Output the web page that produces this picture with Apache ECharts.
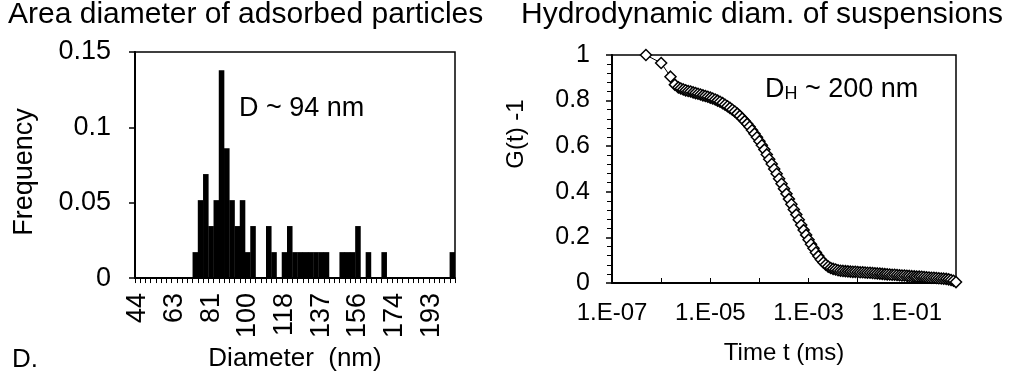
<!DOCTYPE html>
<html>
<head>
<meta charset="utf-8">
<script src="https://cdn.jsdelivr.net/npm/echarts@6/dist/echarts.min.js"></script>
<style>
html,body{margin:0;padding:0;background:#fff;}
#chart{width:1013px;height:377px;}
</style>
</head>
<body>
<div id="chart"></div>
<script>
// ---- Left panel: histogram of area diameter ----
const diameterCategories = ['44','47','49','52','55','57','60','63','65','68','71','73','76','79','81','84','87','89','92','95','97','100','102','105','108','110','113','116','118','121','124','126','129','132','134','137','140','142','145','148','150','153','156','158','161','164','166','169','172','174','177','180','182','185','188','190','193','195','198','201','203'];
const frequency = [0,0,0,0,0,0,0,0,0,0,0,
  0.0172,0.0517,0.069,0.0345,0.0517,0.1379,0.0862,0.0517,0.0345,0.0517,0.0172,0.0345,0,0,
  0.0345,0.0172,0,0.0172,0.0345,
  0.0172,0.0172,0.0172,0.0172,0.0172,0.0172,0.0172,0,0,
  0.0172,0.0172,0.0172,0.0345,0,0.0172,0,0,0.0172,
  0,0,0,0,0,0,0,0,0,0,0,0,0.0172];
const freqTicks = [0, 0.05, 0.1, 0.15];

// ---- Right panel: correlation function ----
const timeMs = [4.9e-7,1.0e-6,1.55e-6,1.9e-6,
  2.24e-6,2.51e-6,2.82e-6,3.16e-6,3.55e-6,3.98e-6,4.47e-6,5.01e-6,5.62e-6,6.31e-6,7.08e-6,7.94e-6,8.91e-6,
  1e-5,1.12e-5,1.26e-5,1.41e-5,1.58e-5,1.78e-5,2e-5,2.24e-5,2.51e-5,2.82e-5,3.16e-5,3.55e-5,3.98e-5,4.47e-5,5.01e-5,5.62e-5,6.31e-5,7.08e-5,7.94e-5,8.91e-5,
  1e-4,1.12e-4,1.26e-4,1.41e-4,1.58e-4,1.78e-4,2e-4,2.24e-4,2.51e-4,2.82e-4,3.16e-4,3.55e-4,3.98e-4,4.47e-4,5.01e-4,5.62e-4,6.31e-4,7.08e-4,7.94e-4,8.91e-4,
  1e-3,1.12e-3,1.26e-3,1.41e-3,1.58e-3,1.78e-3,2e-3,2.24e-3,2.51e-3,2.82e-3,3.16e-3,3.55e-3,3.98e-3,4.47e-3,5.01e-3,5.62e-3,6.31e-3,7.08e-3,7.94e-3,8.91e-3,
  1e-2,1.12e-2,1.26e-2,1.41e-2,1.58e-2,1.78e-2,2e-2,2.24e-2,2.51e-2,2.82e-2,3.16e-2,3.55e-2,3.98e-2,4.47e-2,5.01e-2,5.62e-2,6.31e-2,7.08e-2,7.94e-2,8.91e-2,
  0.1,0.112,0.126,0.141,0.158,0.178,0.2,0.224,0.251,0.282,0.316,0.355,0.398,0.447,0.501,0.562,0.631,0.708,0.794,0.891,
  1.0];
const gMinus1 = [1.0,0.965,0.905,0.87,
  0.858,0.853,0.849,0.845,0.842,0.840,0.836,0.833,0.830,0.827,0.823,0.820,0.817,
  0.813,0.809,0.805,0.800,0.795,0.789,0.782,0.775,0.768,0.760,0.752,0.743,0.733,0.722,0.710,0.698,0.685,0.670,0.655,0.639,
  0.622,0.604,0.585,0.564,0.543,0.522,0.500,0.479,0.457,0.435,0.413,0.391,0.368,0.345,0.322,0.300,0.277,0.254,0.232,0.211,
  0.190,0.170,0.152,0.134,0.118,0.103,0.090,0.080,0.072,0.066,0.062,0.059,0.056,0.054,0.053,0.052,0.051,0.050,0.049,0.049,
  0.048,0.047,0.047,0.046,0.045,0.045,0.044,0.043,0.042,0.041,0.040,0.039,0.038,0.037,0.036,0.036,0.035,0.034,0.033,0.033,
  0.032,0.031,0.030,0.029,0.028,0.028,0.027,0.026,0.025,0.024,0.023,0.023,0.022,0.021,0.020,0.019,0.018,0.016,0.013,0.010,
  0.004];
const timeTickValues = [1e-7, 1e-5, 1e-3, 1e-1];
const timeTickLabels = ['1.E-07', '1.E-05', '1.E-03', '1.E-01'];

const FONT = '"Liberation Sans", Arial, sans-serif';
const chart = echarts.init(document.getElementById('chart'), null, {renderer: 'canvas'});

const points = timeMs.map((t, i) => [t, gMinus1[i]]);

chart.setOption({
  animation: false,
  backgroundColor: '#fff',
  textStyle: {fontFamily: FONT, color: '#000'},
  grid: [
    {left: 135, top: 52, width: 320, height: 228, show: true, borderColor: '#000', borderWidth: 1.5, backgroundColor: 'transparent'},
    {left: 612, top: 55, width: 344, height: 228, show: true, borderColor: '#000', borderWidth: 1.5, backgroundColor: 'transparent'}
  ],
  xAxis: [
    {
      type: 'category', gridIndex: 0, data: diameterCategories,
      axisLine: {lineStyle: {color: '#000', width: 2}},
      axisTick: {show: true, interval: 0, length: 5, lineStyle: {color: '#000', width: 1}},
      axisLabel: {interval: 6, rotate: 90, fontSize: 27, color: '#000', fontFamily: FONT, margin: 15},
      name: 'Diameter  (nm)', nameLocation: 'middle', nameGap: 65,
      nameTextStyle: {fontSize: 26, color: '#000', fontFamily: FONT}
    },
    {
      type: 'log', logBase: 10, gridIndex: 1, min: 1e-7, max: 1,
      axisLine: {lineStyle: {color: '#000', width: 2}},
      axisTick: {show: true, inside: true, length: 5, lineStyle: {color: '#000', width: 1}},
      axisLabel: {fontSize: 24, color: '#000', fontFamily: FONT, margin: 18, showMinLabel: true,
        formatter: function (v) {
          for (let i = 0; i < timeTickValues.length; i++) {
            if (Math.abs(Math.log10(v) - Math.log10(timeTickValues[i])) < 1e-6) return timeTickLabels[i];
          }
          return '';
        }},
      splitLine: {show: false},
      name: 'Time t (ms)', nameLocation: 'middle', nameGap: 58,
      nameTextStyle: {fontSize: 24, color: '#000', fontFamily: FONT}
    }
  ],
  yAxis: [
    {
      type: 'value', gridIndex: 0, min: freqTicks[0], max: freqTicks[freqTicks.length - 1], interval: 0.05,
      axisLine: {show: true, lineStyle: {color: '#000', width: 2}},
      axisTick: {show: true, length: 6, lineStyle: {color: '#000', width: 1.5}},
      axisLabel: {fontSize: 27, color: '#000', fontFamily: FONT, margin: 24},
      splitLine: {show: false}
    },
    {
      type: 'value', gridIndex: 1, min: 0, max: 1, interval: 0.2,
      axisLine: {show: true, lineStyle: {color: '#000', width: 2}},
      axisTick: {show: true, length: 6, lineStyle: {color: '#000', width: 1.5}},
      minorTick: {show: true, splitNumber: 5, length: 5, lineStyle: {color: '#000', width: 1}},
      axisLabel: {fontSize: 25, color: '#000', fontFamily: FONT, margin: 22},
      splitLine: {show: false}
    }
  ],
  series: [
    {
      type: 'bar', xAxisIndex: 0, yAxisIndex: 0, data: frequency,
      barWidth: '106%',
      itemStyle: {color: '#000'}
    },
    {
      type: 'line', xAxisIndex: 1, yAxisIndex: 1, data: points,
      symbol: 'diamond', symbolSize: 11, showAllSymbol: true,
      lineStyle: {color: '#000', width: 1},
      itemStyle: {color: '#fff', borderColor: '#000', borderWidth: 1.5}
    }
  ],
  graphic: [
    {type: 'text', left: 8, top: 0, style: {text: 'Area diameter of adsorbed particles', font: '30px ' + FONT, fill: '#000'}},
    {type: 'text', left: 521, top: 0, style: {text: 'Hydrodynamic diam. of suspensions', font: '30px ' + FONT, fill: '#000'}},
    {type: 'text', left: 239, top: 95, style: {text: 'D ~ 94 nm', font: '27px ' + FONT, fill: '#000'}},
    {type: 'text', left: 765, top: 76, style: {
      text: '{a|D}{s|H}{a| ~ 200 nm}',
      rich: {
        a: {fontSize: 27, fontFamily: FONT, fill: '#000', color: '#000', verticalAlign: 'bottom', lineHeight: 30},
        s: {fontSize: 18, fontFamily: FONT, fill: '#000', color: '#000', verticalAlign: 'bottom', lineHeight: 24}
      }}},
    {type: 'text', left: 12, top: 347, style: {text: 'D.', font: '26px ' + FONT, fill: '#000'}},
    {type: 'text', x: 25, y: 172, rotation: Math.PI / 2,
      style: {text: 'Frequency', font: '27px ' + FONT, fill: '#000', align: 'center', verticalAlign: 'middle', textAlign: 'center', textVerticalAlign: 'middle'}},
    {type: 'text', x: 516, y: 134, rotation: Math.PI / 2,
      style: {text: 'G(t) -1', font: '24px ' + FONT, fill: '#000', align: 'center', verticalAlign: 'middle', textAlign: 'center', textVerticalAlign: 'middle'}}
  ]
});
</script>
</body>
</html>
